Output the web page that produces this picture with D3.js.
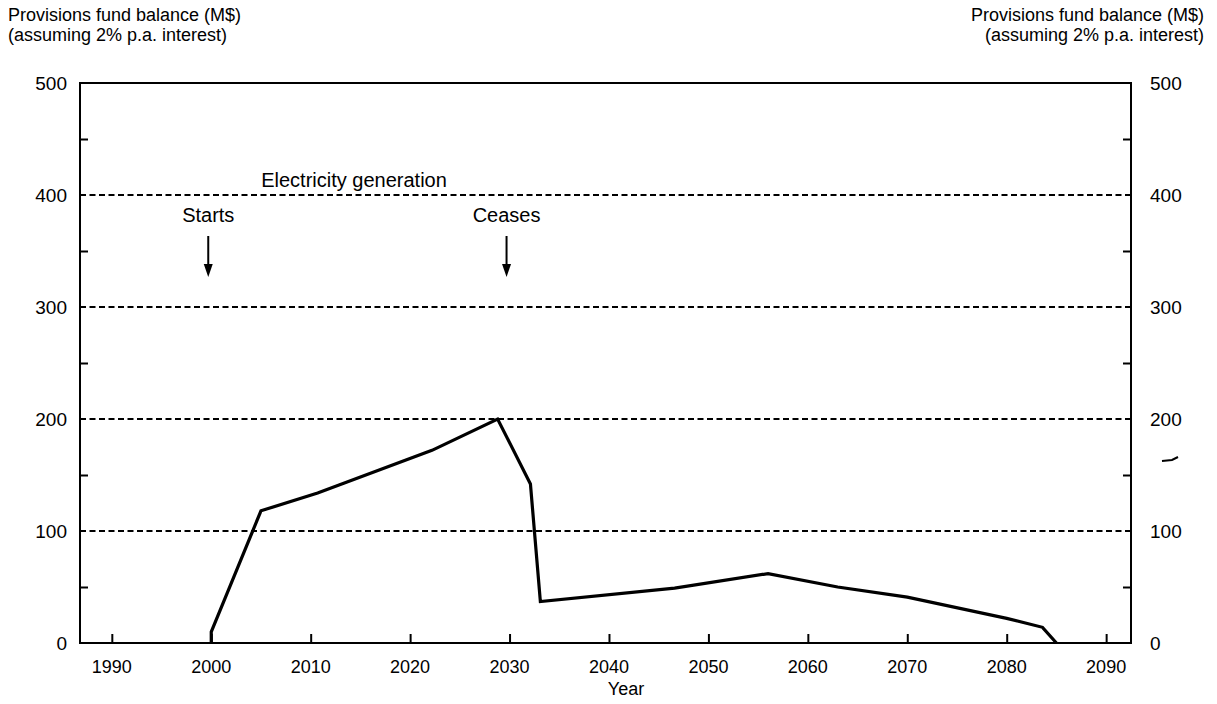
<!DOCTYPE html>
<html>
<head>
<meta charset="utf-8">
<script src="https://cdn.jsdelivr.net/npm/d3@7"></script>
<style>
  html, body { margin: 0; padding: 0; background: #fff; }
  svg { display: block; }
  text { font-family: "Liberation Sans", Arial, Helvetica, sans-serif; fill: #000; }
</style>
</head>
<body>
<svg id="chart" width="1217" height="704"></svg>
<script>
// ---- data ----
const years   = [2000, 2000, 2005, 2010.7, 2022.2, 2028.8, 2032.1, 2033.1, 2046.6, 2056, 2063, 2070, 2080, 2083.6, 2085];
const balance = [0,    10,   118,  134,    172,    200,    142,    37,     49,     62,   50,   41,   22,   14,     0];
const xTickYears = [1990, 2000, 2010, 2020, 2030, 2040, 2050, 2060, 2070, 2080, 2090];
const yTickValues = [0, 100, 200, 300, 400, 500];
const yMinorValues = [50, 150, 250, 350, 450];
const gridValues = [100, 200, 300, 400];
const eventLabels = ["Starts", "Ceases"];
const eventYears = [2000, 2030];
const titleLines = ["Provisions fund balance (M$)", "(assuming 2% p.a. interest)"];
const phaseLabel = "Electricity generation";
const xTitle = "Year";

// ---- layout ----
const svg = d3.select("#chart");
const pLeft = 80, pRight = 1131, pTop = 83, pBottom = 643;
const x = d3.scaleLinear().domain([1986.8, 2092.5]).range([pLeft, pRight]);
const y = d3.scaleLinear().domain([0, 500]).range([pBottom, pTop]);

// dashed reference lines
svg.append("g").selectAll("line").data(gridValues).join("line")
  .attr("x1", pLeft).attr("x2", pRight)
  .attr("y1", d => y(d)).attr("y2", d => y(d))
  .attr("stroke", "#000").attr("stroke-width", 1.8)
  .attr("stroke-dasharray", "6,3.5");

// frame
svg.append("rect").attr("x", pLeft).attr("y", pTop)
  .attr("width", pRight - pLeft).attr("height", pBottom - pTop)
  .attr("fill", "none").attr("stroke", "#000").attr("stroke-width", 2);

// left axis (inward ticks)
const leftAxis = d3.axisRight(y).tickValues(yMinorValues).tickSize(8).tickFormat("");
const gl = svg.append("g").attr("transform", `translate(${pLeft},0)`).call(leftAxis);
gl.select(".domain").remove();
gl.selectAll("line").attr("stroke-width", 2);

svg.append("g").selectAll("text").data(yTickValues).join("text")
  .attr("x", 67).attr("y", d => y(d)).attr("dy", "0.35em")
  .attr("text-anchor", "end").attr("font-size", 19).text(d => d);

// right axis (inward ticks)
const rightAxis = d3.axisLeft(y).tickValues(yMinorValues).tickSize(8).tickFormat("");
const gr = svg.append("g").attr("transform", `translate(${pRight},0)`).call(rightAxis);
gr.select(".domain").remove();
gr.selectAll("line").attr("stroke-width", 2);

svg.append("g").selectAll("text").data(yTickValues).join("text")
  .attr("x", 1150).attr("y", d => y(d)).attr("dy", "0.35em")
  .attr("text-anchor", "start").attr("font-size", 19).text(d => d);

// bottom axis (inward ticks)
const bottomAxis = d3.axisTop(x).tickValues(xTickYears).tickSize(9).tickFormat("");
const gb = svg.append("g").attr("transform", `translate(0,${pBottom})`).call(bottomAxis);
gb.select(".domain").remove();
gb.selectAll("line").attr("stroke-width", 2);

svg.append("g").selectAll("text").data(xTickYears).join("text")
  .attr("x", d => x(d)).attr("y", 673)
  .attr("text-anchor", "middle").attr("font-size", 18).text(d => d);

svg.append("text").attr("x", 626).attr("y", 695)
  .attr("text-anchor", "middle").attr("font-size", 18).text(xTitle);

// titles
svg.append("g").selectAll("text").data(titleLines).join("text")
  .attr("x", 8).attr("y", (d, i) => 21 + i * 20)
  .attr("font-size", 18).text(d => d);
svg.append("g").selectAll("text").data(titleLines).join("text")
  .attr("x", 1204).attr("y", (d, i) => 21 + i * 20)
  .attr("text-anchor", "end").attr("font-size", 18).text(d => d);

// phase label
svg.append("text").attr("x", 354).attr("y", 187)
  .attr("text-anchor", "middle").attr("font-size", 20).text(phaseLabel);

// event labels + arrows
const ev = svg.append("g").selectAll("g").data(eventYears).join("g")
  .attr("transform", d => `translate(${x(d) - 3},0)`);
ev.append("text").attr("y", 222).attr("text-anchor", "middle")
  .attr("font-size", 20).text((d, i) => eventLabels[i]);
ev.append("line").attr("x1", 0).attr("x2", 0).attr("y1", 236).attr("y2", 268)
  .attr("stroke", "#000").attr("stroke-width", 2);
ev.append("path").attr("d", "M-4.5,264 L4.5,264 L0,277 Z").attr("fill", "#000");

// main series
const pts = years.map((yr, i) => [yr, balance[i]]);
svg.append("path").datum(pts)
  .attr("fill", "none").attr("stroke", "#000").attr("stroke-width", 3.2)
  .attr("stroke-linejoin", "miter")
  .attr("d", d3.line().x(d => x(d[0])).y(d => y(d[1])));

// small stray scan mark at right side
svg.append("path").attr("d", "M1162,461 L1172,460 L1178,457").attr("fill", "none")
  .attr("stroke", "#000").attr("stroke-width", 2);
</script>
</body>
</html>
